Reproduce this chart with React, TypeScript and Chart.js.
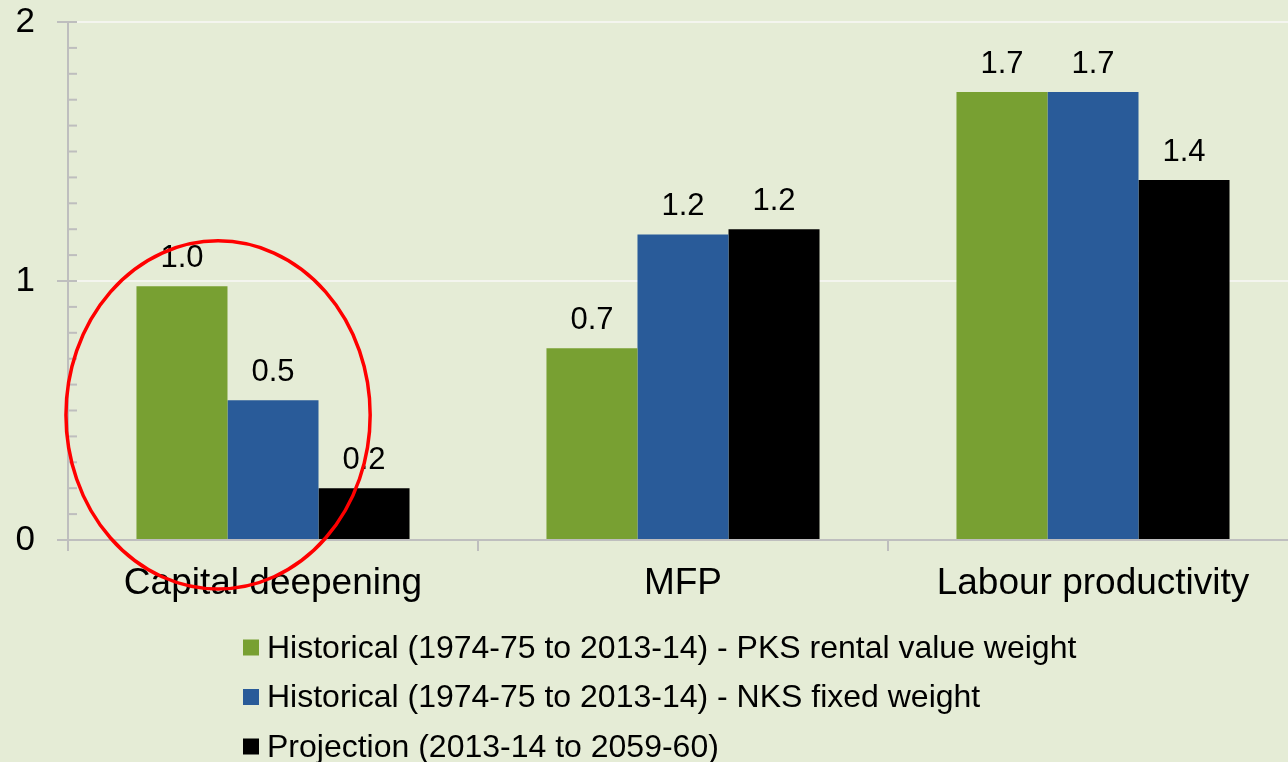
import React, { useEffect, useRef } from "react";
import { Chart, registerables } from "chart.js";

Chart.register(...registerables);

const categories = ["Capital deepening", "MFP", "Labour productivity"];
const seriesLabels = [
  "Historical (1974-75 to 2013-14) - PKS rental value weight",
  "Historical (1974-75 to 2013-14) - NKS fixed weight",
  "Projection (2013-14 to 2059-60)",
];
const pksValues = [0.98, 0.74, 1.73];
const nksValues = [0.54, 1.18, 1.73];
const projectionValues = [0.2, 1.2, 1.39];
const seriesColors = ["#78A032", "#295B99", "#000000"];
const yMin = 0;
const yMax = 2;
const yStep = 1;
const minorStep = 0.1;

const FONT = "'Liberation Sans', Arial, sans-serif";
const BG = "#E5ECD6";
const AXIS = "#BEBEBE";

const bgPlugin = {
  id: "bgFill",
  beforeDraw(chart: any) {
    const { ctx, width, height } = chart;
    ctx.save();
    ctx.fillStyle = BG;
    ctx.fillRect(0, 0, width, height);
    ctx.restore();
  },
};

const axesPlugin = {
  id: "axesDraw",
  afterDatasetsDraw(chart: any) {
    const { ctx, chartArea: ca, scales } = chart;
    const ys = scales.y;
    const xs = scales.x;
    ctx.save();
    ctx.strokeStyle = AXIS;
    ctx.lineWidth = 2;
    const line = (x1: number, y1: number, x2: number, y2: number) => {
      ctx.beginPath();
      ctx.moveTo(x1, y1);
      ctx.lineTo(x2, y2);
      ctx.stroke();
    };
    const ax = Math.round(ca.left);
    line(ax, ca.top, ax, ca.bottom + 11);
    const n = Math.round((yMax - yMin) / minorStep);
    for (let i = 0; i <= n; i++) {
      const v = yMin + i * minorStep;
      const py = ys.getPixelForValue(v);
      const major = i % Math.round(yStep / minorStep) === 0;
      line(major ? ax - 11 : ax, py, ax + 9, py);
    }
    line(ax - 11, ca.bottom, ca.right, ca.bottom);
    const catW = xs.getPixelForValue(1) - xs.getPixelForValue(0);
    for (let i = 1; i <= categories.length; i++) {
      const px = Math.round(xs.getPixelForValue(i) - catW / 2);
      line(px, ca.bottom, px, ca.bottom + 11);
    }
    ctx.restore();
  },
};

const labelsPlugin = {
  id: "valueLabels",
  afterDatasetsDraw(chart: any) {
    const { ctx } = chart;
    ctx.save();
    ctx.fillStyle = "#000";
    ctx.font = `31px ${FONT}`;
    ctx.textAlign = "center";
    ctx.textBaseline = "alphabetic";
    chart.data.datasets.forEach((ds: any, di: number) => {
      const meta = chart.getDatasetMeta(di);
      meta.data.forEach((bar: any, i: number) => {
        ctx.fillText(Number(ds.data[i]).toFixed(1), bar.x, bar.y - 19);
      });
    });
    ctx.restore();
  },
};

const legendPlugin = {
  id: "customLegend",
  afterDraw(chart: any) {
    const { ctx } = chart;
    ctx.save();
    ctx.font = `32px ${FONT}`;
    ctx.textAlign = "left";
    ctx.textBaseline = "alphabetic";
    const left = 243;
    const firstBaseline = 657.5;
    const pitch = 49.5;
    seriesLabels.forEach((label, i) => {
      const by = firstBaseline + i * pitch;
      ctx.fillStyle = seriesColors[i];
      ctx.fillRect(left, by - 18, 16, 16);
      ctx.fillStyle = "#000";
      ctx.fillText(label, left + 24, by);
    });
    ctx.restore();
  },
};

const ellipsePlugin = {
  id: "highlightEllipse",
  afterDraw(chart: any) {
    const { ctx, scales } = chart;
    const xs = scales.x;
    const ys = scales.y;
    const catW = xs.getPixelForValue(1) - xs.getPixelForValue(0);
    const unitH = ys.getPixelForValue(0) - ys.getPixelForValue(1);
    const cx = xs.getPixelForValue(0) - catW * 0.134;
    const cy = ys.getPixelForValue(0.483);
    ctx.save();
    ctx.strokeStyle = "#FF0000";
    ctx.lineWidth = 3.5;
    ctx.beginPath();
    ctx.ellipse(cx, cy, catW * 0.371, unitH * 0.672, 0, 0, Math.PI * 2);
    ctx.stroke();
    ctx.restore();
  },
};

export default function App() {
  const canvasRef = useRef<HTMLCanvasElement | null>(null);

  useEffect(() => {
    if (!canvasRef.current) return;
    const chart = new Chart(canvasRef.current, {
      type: "bar",
      data: {
        labels: categories,
        datasets: [
          { label: seriesLabels[0], data: pksValues, backgroundColor: seriesColors[0] },
          { label: seriesLabels[1], data: nksValues, backgroundColor: seriesColors[1] },
          { label: seriesLabels[2], data: projectionValues, backgroundColor: seriesColors[2] },
        ],
      },
      options: {
        animation: false,
        responsive: false,
        devicePixelRatio: 1,
        layout: { padding: { top: 22, right: 12, bottom: 152, left: 0 } },
        datasets: { bar: { categoryPercentage: 0.666, barPercentage: 1 } },
        plugins: {
          legend: { display: false },
          tooltip: { enabled: false },
        },
        scales: {
          x: {
            offset: true,
            grid: { display: false, drawTicks: false },
            border: { display: false },
            ticks: {
              color: "#000",
              font: { family: FONT, size: 37 },
              padding: 22,
              maxRotation: 0,
              autoSkip: false,
            },
            afterFit: (s: any) => {
              s.height = 70;
              s.paddingLeft = 0;
              s.paddingRight = 0;
            },
          },
          y: {
            min: yMin,
            max: yMax,
            ticks: {
              stepSize: yStep,
              color: "#000",
              font: { family: FONT, size: 35 },
              padding: 33,
            },
            grid: {
              drawTicks: false,
              lineWidth: 2,
              color: (c: any) =>
                c.tick && c.tick.value > yMin ? "#F4F5EF" : "rgba(0,0,0,0)",
            },
            border: { display: false },
            afterFit: (s: any) => {
              s.width = 68;
              s.paddingTop = 0;
              s.paddingBottom = 0;
            },
          },
        },
      } as any,
      plugins: [bgPlugin, axesPlugin, labelsPlugin, legendPlugin, ellipsePlugin],
    });
    return () => chart.destroy();
  }, []);

  return (
    <div
      style={{
        position: "fixed",
        left: 0,
        top: 0,
        width: 1288,
        height: 762,
        overflow: "hidden",
        background: BG,
      }}
    >
      <canvas
        ref={canvasRef}
        width={1310}
        height={762}
        style={{ display: "block", width: 1310, height: 762 }}
      />
    </div>
  );
}
